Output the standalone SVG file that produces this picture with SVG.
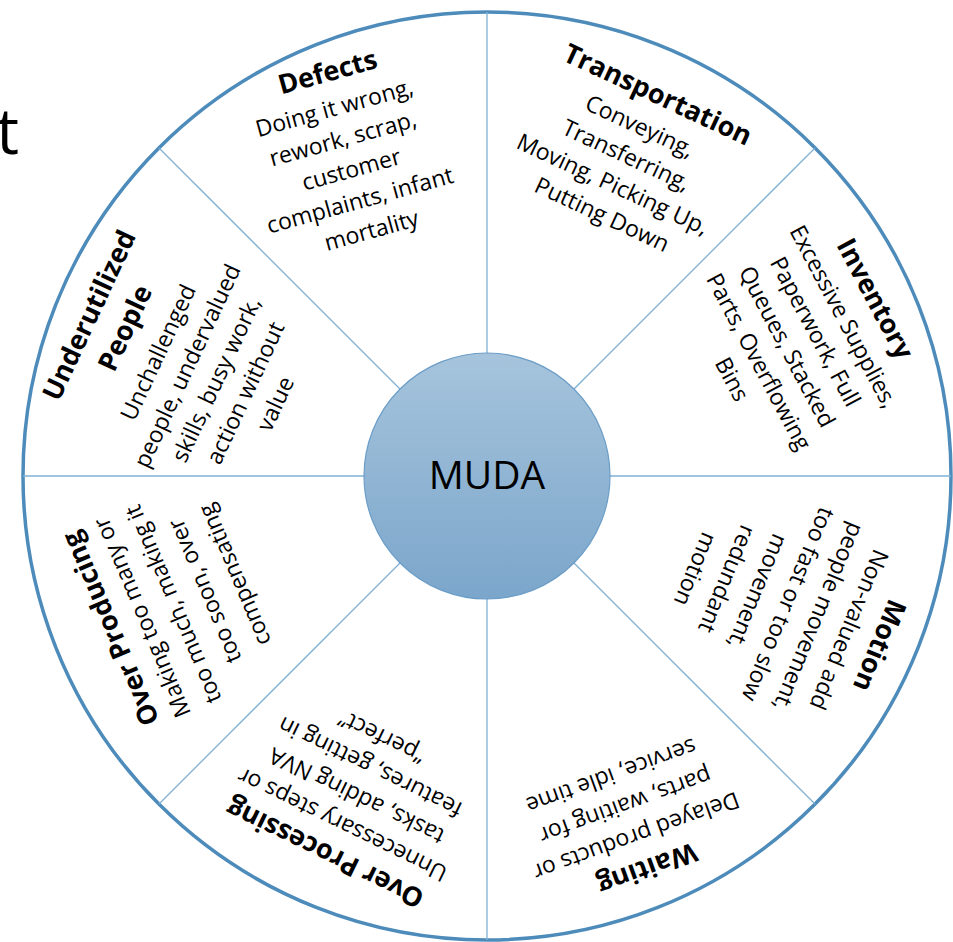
<svg xmlns="http://www.w3.org/2000/svg" width="953" height="942" viewBox="0 0 953 942">
  <style>
    text { font-family: "Open Sans", "Noto Sans", "DejaVu Sans", sans-serif; fill: #000; text-anchor: middle; }
    .h { font-weight: bold; font-size: 27px; }
    .b { font-size: 23px; }
    .spoke { stroke: #7fb0d4; stroke-width: 1.3; fill: none; }
  </style>
  <defs>
    <linearGradient id="hubFill" x1="0" y1="0" x2="0" y2="1">
      <stop offset="0" stop-color="#a6c4dc"/>
      <stop offset="1" stop-color="#7ba6cb"/>
    </linearGradient>
  </defs>

  <rect width="953" height="942" fill="#ffffff"/>

  <!-- clipped title letter at the left edge -->
  <text x="19" y="154" style="font-size:64px;text-anchor:end">t</text>

  <!-- outer ring -->
  <circle cx="487" cy="476" r="464" fill="#ffffff" stroke="#4d8bbb" stroke-width="3.5"/>

  <!-- connectors: eight spokes dividing the wheel -->
  <g id="spokes">
    <line class="spoke" x1="487" y1="12" x2="487" y2="940"/>
    <line class="spoke" x1="23" y1="476" x2="951" y2="476"/>
    <line class="spoke" x1="159" y1="148" x2="815" y2="804"/>
    <line class="spoke" x1="815" y1="148" x2="159" y2="804"/>
  </g>

  <!-- hub -->
  <g id="muda">
    <circle cx="487" cy="476" r="123" fill="url(#hubFill)" stroke="#6b9dc7" stroke-width="1.2"/>
    <text x="487" y="489" style="font-size:39px">MUDA</text>
  </g>

  <g id="defects" transform="translate(330,81) rotate(-15.5)">
    <text class="h" x="0" y="0">Defects</text>
    <text class="b">
      <tspan x="0" y="35">Doing it wrong,</tspan>
      <tspan x="0" y="67">rework, scrap,</tspan>
      <tspan x="0" y="99">customer</tspan>
      <tspan x="0" y="131">complaints, infant</tspan>
      <tspan x="0" y="163">mortality</tspan>
    </text>
  </g>

  <g id="transportation" transform="translate(654,103) rotate(25)">
    <text class="h" x="0" y="0">Transportation</text>
    <text class="b">
      <tspan x="0" y="35">Conveying,</tspan>
      <tspan x="0" y="67">Transferring,</tspan>
      <tspan x="0" y="99">Moving, Picking Up,</tspan>
      <tspan x="0" y="131">Putting Down</tspan>
    </text>
  </g>

  <g id="inventory" transform="translate(867,303) rotate(62)">
    <text class="h" x="0" y="0">Inventory</text>
    <text class="b">
      <tspan x="4" y="35">Excessive Supplies,</tspan>
      <tspan x="4" y="67">Paperwork, Full</tspan>
      <tspan x="4" y="99">Queues, Stacked</tspan>
      <tspan x="4" y="131">Parts, Overflowing</tspan>
      <tspan x="4" y="163">Bins</tspan>
    </text>
  </g>

  <g id="motion" transform="translate(871,642) rotate(112.5)">
    <text class="h" x="0" y="0">Motion</text>
    <text class="b">
      <tspan x="0" y="33">Non-valued add</tspan>
      <tspan x="0" y="66">people movement,</tspan>
      <tspan x="0" y="99">too fast or too slow</tspan>
      <tspan x="0" y="132">movement,</tspan>
      <tspan x="0" y="165">redundant</tspan>
      <tspan x="0" y="198">motion</tspan>
    </text>
  </g>

  <g id="waiting" transform="translate(644,860) rotate(160)">
    <text class="h" x="0" y="0">Waiting</text>
    <text class="b">
      <tspan x="2" y="33">Delayed products or</tspan>
      <tspan x="2" y="65.5">parts, waiting for</tspan>
      <tspan x="2" y="98">service, idle time</tspan>
    </text>
  </g>

  <g id="over-processing" transform="translate(329,845) rotate(206)">
    <text class="h" x="0" y="0">Over Processing</text>
    <text class="b">
      <tspan x="0" y="32">Unnecessary steps or</tspan>
      <tspan x="0" y="64">tasks, adding NVA</tspan>
      <tspan x="0" y="96">features, getting in</tspan>
      <tspan x="0" y="128">“perfect”</tspan>
    </text>
  </g>

  <g id="over-producing" transform="translate(119,625) rotate(247)">
    <text class="h" x="0" y="0">Over Producing</text>
    <text class="b">
      <tspan x="1" y="32">Making too many or</tspan>
      <tspan x="1" y="66">too much, making it</tspan>
      <tspan x="1" y="100">too soon, over</tspan>
      <tspan x="1" y="134">compensating</tspan>
    </text>
  </g>

  <g id="underutilized-people" transform="translate(99,316) rotate(295)">
    <text class="h">
      <tspan x="0" y="0">Underutilized</tspan>
      <tspan x="0" y="38">People</tspan>
    </text>
    <text class="b">
      <tspan x="-5" y="77">Unchallenged</tspan>
      <tspan x="-5" y="109">people, undervalued</tspan>
      <tspan x="-5" y="141">skills, busy work,</tspan>
      <tspan x="-5" y="173">action without</tspan>
      <tspan x="-5" y="205">value</tspan>
    </text>
  </g>
</svg>
